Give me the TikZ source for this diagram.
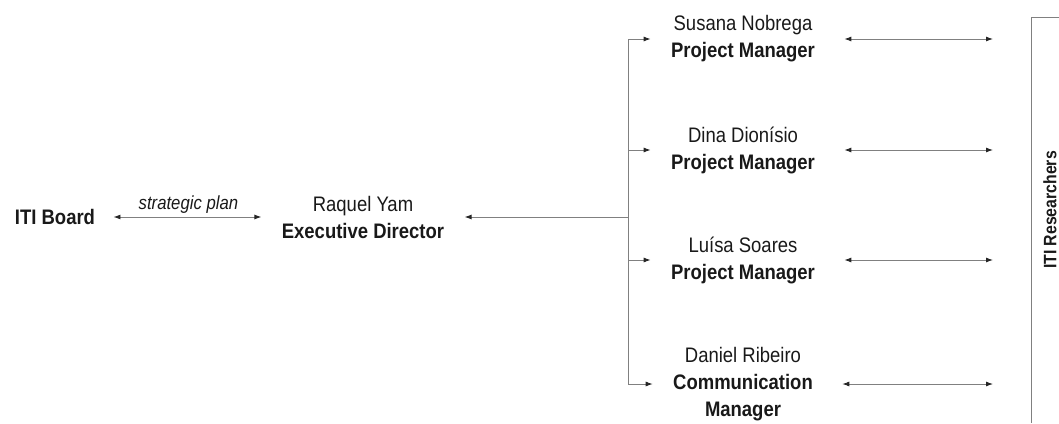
\documentclass[tikz,border=0pt]{standalone}
\usepackage{fontspec}
\setmainfont{Liberation Sans}[FakeStretch=0.88]
\usetikzlibrary{arrows.meta, calc, positioning}

\begin{document}
\begin{tikzpicture}[
    x=1pt, y=-1pt,
    line width = 0.9pt,
    every node/.style={text=black!90, inner sep=2pt, align=center,
        font=\fontsize{21}{27}\selectfont},
    tip/.style={-{Latex[length=7pt, width=5pt, color=black!85]}},
    line/.style={draw=black!50},
    oneway/.style={line, tip},
    bothway/.style={line, {Latex[length=7pt, width=5pt, color=black!85]}-{Latex[length=7pt, width=5pt, color=black!85]}}
    ]

    % Determines the boundries
    \path[use as bounding box] (0,0) rectangle (1059,423);

    \def\mgrX{743}          % column of the managers
    \def\forkX{628}         % column of the branching line
    \def\boxX{1031}         % left wall of the researchers box
    \def\boxTop{17}

    % Board and director
    \node (board) at (55,217) {\bfseries ITI Board};
    \node (exec)  at (363,217) {Raquel Yam\\\bfseries Executive Director};

    \draw[bothway, shorten <=16pt, shorten >=18pt] (board) -- (exec)
        node[midway, above=1pt, font=\fontsize{19}{23}\selectfont\itshape] (plan) {strategic plan};

    % Managers
    \foreach \n/\who/\role/\y in
        {1/Susana Nobrega/\textbf{Project Manager}/39,
         2/Dina Dionísio/\textbf{Project Manager}/150,
         3/Luísa Soares/\textbf{Project Manager}/260,
         4/Daniel Ribeiro/{\textbf{Communication}\\\textbf{Manager}}/384}{
        \node (m\n) at (\mgrX,\y) {\who\\\role};
    }

    % Researchers box (runs off the page)
    \coordinate (RT) at (\boxX,\boxTop);
    \coordinate (RB) at (\boxX,423);
    \draw[line] ($(RT)+(28,0)$) -- (RT) -- (RB);
    \node[rotate=90, font=\fontsize{18}{21}\selectfont\bfseries] (res) at (1050,210) {ITI Researchers};

    % Branching from the director
    \coordinate (fork) at (exec -| \forkX,0);
    \draw[oneway, shorten >=18pt] (fork) -- (exec);
    \draw[line] (m1.west -| fork) -- (m4.west -| fork);

    \foreach \n in {1,...,4}{
        \draw[oneway, shorten >=18pt] (m\n.west -| fork) -- (m\n.west);
        \draw[bothway, shorten <=27pt, shorten >=38pt] (m\n.east) -- (m\n.east -| RT);
    }
\end{tikzpicture}
\end{document}
